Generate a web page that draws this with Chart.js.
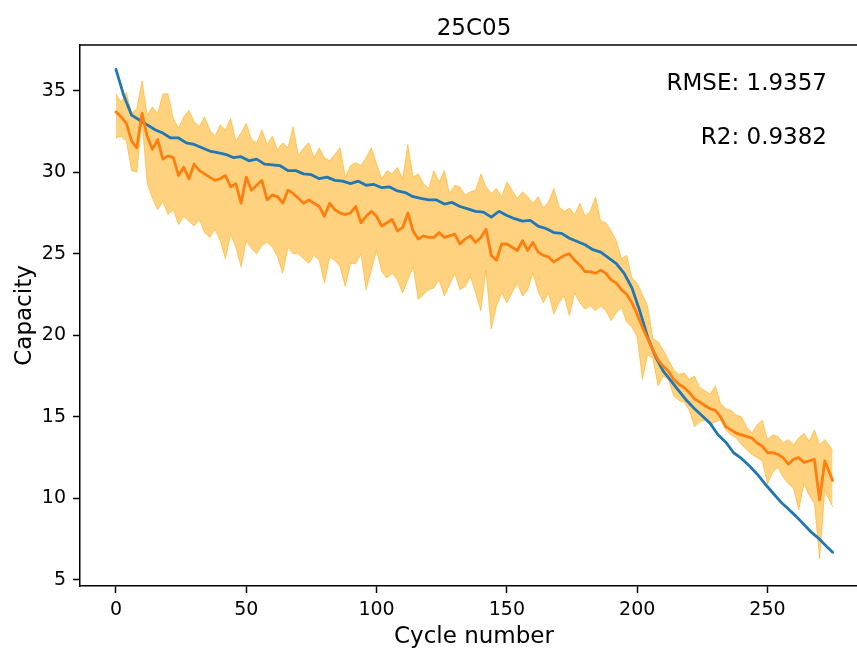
<!DOCTYPE html>
<html><head><meta charset="utf-8">
<script src="https://cdn.jsdelivr.net/npm/chart.js@4"></script>
<style>
html,body{margin:0;padding:0;overflow:hidden;background:#fff;width:857px;height:649px}
#wrap{width:857px;height:649px}
</style></head>
<body><div id="wrap"><canvas id="c" width="857" height="649"></canvas></div>
<script>
const chartTitle = '25C05';
const xLabel = 'Cycle number';
const yLabel = 'Capacity';
const notes = ['RMSE: 1.9357', 'R2: 0.9382'];
const xTicks = [0, 50, 100, 150, 200, 250];
const yTicks = [5, 10, 15, 20, 25, 30, 35];

// measured capacity (blue), sampled every 3 cycles
const cyclesTrue = [0,3,6,9,12,15,18,21,24,27,30,33,36,39,42,45,48,51,54,57,60,63,66,69,72,75,78,81,84,87,90,93,96,99,102,105,108,111,114,117,120,123,126,129,132,135,138,141,144,147,150,153,156,159,162,165,168,171,174,177,180,183,186,189,192,195,198,201,204,207,210,213,216,219,222,225,228,231,234,237,240,243,246,249,252,255,258,261,264,267,270,273,275];
const trueCapacity = [36.3,34.7,33.5,33.2,32.9,32.6,32.4,32.1,32.1,31.8,31.7,31.5,31.3,31.2,31.1,30.9,30.95,30.7,30.8,30.5,30.45,30.4,30.1,30.1,29.9,29.85,29.6,29.7,29.5,29.45,29.3,29.45,29.2,29.25,29.05,29.1,28.85,28.75,28.5,28.4,28.3,28.3,28.05,28.15,27.9,27.75,27.6,27.55,27.25,27.6,27.35,27.15,27.0,27.05,26.7,26.55,26.3,26.25,25.95,25.75,25.55,25.25,25.1,24.75,24.4,23.8,22.9,21.5,19.9,18.7,17.8,17.2,16.6,16.0,15.5,15.05,14.6,13.9,13.45,12.8,12.45,12.0,11.5,10.9,10.35,9.8,9.35,8.9,8.4,7.9,7.5,7.0,6.7];

// prediction (orange mean and band), sampled every 2 cycles
const cyclesPred = [0,2,4,6,8,10,12,14,16,18,20,22,24,26,28,30,32,34,36,38,40,42,44,46,48,50,52,54,56,58,60,62,64,66,68,70,72,74,76,78,80,82,84,86,88,90,92,94,96,98,100,102,104,106,108,110,112,114,116,118,120,122,124,126,128,130,132,134,136,138,140,142,144,146,148,150,152,154,156,158,160,162,164,166,168,170,172,174,176,178,180,182,184,186,188,190,192,194,196,198,200,202,204,206,208,210,212,214,216,218,220,222,224,226,228,230,232,234,236,238,240,242,244,246,248,250,252,254,256,258,260,262,264,266,268,270,272,274,275];

const predMean = [
33.7,33.4,33.0,31.9,31.5,33.6,32.2,31.4,32.0,30.8,
31.0,30.9,29.8,30.3,29.6,30.5,30.1,29.9,29.7,29.5,
29.6,29.8,29.1,29.3,28.1,29.7,28.9,29.2,29.5,28.3,
28.6,28.5,28.1,28.9,28.7,28.4,28.1,28.3,28.1,27.9,
27.3,28.1,27.7,27.5,27.4,27.5,27.9,26.9,27.3,27.6,
27.3,26.7,26.9,27.1,26.4,26.6,27.5,26.4,25.9,26.1,
26.0,26.0,26.3,26.0,26.1,26.2,25.6,25.9,26.1,25.7,
26.0,26.5,24.9,24.6,25.6,25.6,25.4,25.2,25.8,25.2,
25.7,25.1,24.9,24.8,24.5,24.7,24.9,25.0,24.6,24.3,
23.9,23.9,23.8,24.0,23.8,23.4,23.2,22.8,22.5,22.0,
21.3,20.5,19.8,19.1,18.5,18.1,17.8,17.3,17.0,16.8,
16.5,16.1,15.9,15.7,15.5,15.4,15.0,14.4,14.2,14.0,
13.9,13.8,13.7,13.4,13.2,12.8,12.8,12.7,12.5,12.1,
12.4,12.5,12.2,12.3,12.4,9.9,12.3,11.5,11.1];

const predUpper = [
34.8,34.3,34.9,33.6,33.9,35.6,33.5,34.0,33.6,34.8,
34.8,33.3,32.7,33.4,33.8,33.1,32.8,33.4,32.6,32.2,
32.9,32.6,33.3,31.9,32.4,33.0,32.0,31.8,32.6,31.7,
32.2,31.4,31.8,31.5,32.8,31.0,31.5,31.8,30.9,31.5,
30.9,30.7,31.1,31.5,29.7,30.4,30.6,30.4,30.9,31.5,
30.5,29.6,30.1,29.9,30.3,29.6,31.7,29.7,29.9,29.3,
29.0,30.1,29.4,30.1,28.7,29.2,29.1,28.6,28.8,28.9,
29.9,29.1,28.7,29.0,28.5,29.4,28.9,28.4,28.8,28.5,
28.1,28.5,27.8,28.2,29.0,27.9,27.6,27.8,27.4,28.1,
27.3,27.6,28.5,27.0,26.9,26.4,25.8,24.7,24.9,23.5,
23.2,22.5,21.8,19.8,19.6,19.1,18.5,17.9,17.6,17.7,
17.3,17.5,16.8,16.6,16.4,16.9,15.8,15.5,15.4,15.1,
15.0,14.4,14.0,14.5,14.8,13.6,13.9,13.8,13.4,13.6,
13.3,13.7,14.0,13.5,14.2,13.3,13.6,13.2,12.9];

const predLower = [
32.1,32.2,31.9,30.1,30.0,33.2,29.3,28.4,27.7,28.2,
27.4,27.7,26.8,27.3,27.0,26.7,27.1,26.3,26.0,26.5,
25.8,24.7,26.2,25.4,24.2,25.8,25.3,25.0,25.5,25.7,
25.4,24.8,23.8,25.4,25.0,25.0,24.7,24.4,24.9,24.6,
23.2,24.8,24.6,24.2,23.0,24.4,24.4,25.0,22.8,24.0,
25.2,23.9,23.5,23.8,23.4,22.6,23.4,24.2,22.2,22.5,
22.8,22.9,23.4,22.4,23.1,23.8,22.8,23.0,23.6,22.6,
21.5,24.0,20.4,21.8,22.6,22.0,22.6,23.2,22.4,22.8,
23.8,22.7,22.0,22.6,21.3,22.0,22.4,21.2,22.6,22.0,
21.6,21.8,21.5,21.8,21.5,20.9,21.4,21.7,20.8,20.5,
19.9,17.3,18.8,18.6,16.9,17.5,17.3,16.3,16.0,15.9,
15.4,14.4,14.7,14.8,14.5,14.7,14.8,14.2,13.9,13.7,
13.3,13.0,12.7,12.5,12.3,10.9,11.6,11.9,11.3,10.9,
10.6,9.3,10.9,10.2,9.7,6.3,10.5,9.8,9.5];

const pts = (xs, ys) => ys.map((v, i) => ({x: xs[i], y: v}));
const FONT = 'DejaVu Sans';
const bandColor = 'rgba(255,165,0,0.5)';

const deco = {
  id: 'deco',
  afterDraw(chart) {
    const {ctx, chartArea: a} = chart;
    ctx.save();
    ctx.strokeStyle = '#000';
    ctx.lineWidth = 1.5;
    ctx.beginPath();
    ctx.moveTo(a.left, a.top);
    ctx.lineTo(a.right, a.top);
    ctx.stroke();
    ctx.fillStyle = '#000';
    ctx.font = '23px "' + FONT + '"';
    const cx = 474;
    ctx.textAlign = 'center';
    ctx.textBaseline = 'alphabetic';
    ctx.fillText(chartTitle, cx, 35);
    ctx.fillText(xLabel, cx, 643);
    ctx.textAlign = 'right';
    ctx.fillText(notes[0], 827, 90);
    ctx.fillText(notes[1], 827, 144);
    ctx.translate(31, (a.top + a.bottom) / 2);
    ctx.rotate(-Math.PI / 2);
    ctx.textAlign = 'center';
    ctx.fillText(yLabel, 0, 0);
    ctx.restore();
  }
};

const axisCommon = {
  grid: {display: true, drawOnChartArea: false, drawTicks: true, tickLength: 7, tickWidth: 1.5, tickColor: '#000'},
  border: {display: true, color: '#000', width: 1.5},
  ticks: {font: {family: FONT, size: 19}, color: '#000', padding: 6, maxRotation: 0, autoSkip: false, callback: v => String(v)}
};

new Chart(document.getElementById('c'), {
  type: 'line',
  data: {
    datasets: [
      {data: pts(cyclesPred, predUpper), borderColor: bandColor, borderWidth: 1, backgroundColor: bandColor, fill: '+1', pointRadius: 0, order: 2},
      {data: pts(cyclesPred, predLower), borderColor: bandColor, borderWidth: 1, fill: false, pointRadius: 0, order: 2},
      {data: pts(cyclesTrue, trueCapacity), borderColor: '#1f77b4', borderWidth: 2.8, fill: false, pointRadius: 0, order: 1},
      {data: pts(cyclesPred, predMean), borderColor: '#ff7f0e', borderWidth: 2.8, fill: false, pointRadius: 0, order: 0}
    ]
  },
  options: {
    responsive: false,
    devicePixelRatio: 1,
    animation: false,
    layout: {padding: {left: 0, top: 45, right: 0, bottom: 0}},
    plugins: {legend: {display: false}, tooltip: {enabled: false}, title: {display: false}},
    elements: {line: {tension: 0, borderJoinStyle: 'round', borderCapStyle: 'round'}, point: {radius: 0}},
    scales: {
      x: Object.assign({}, axisCommon, {
        type: 'linear', min: -13.8, max: 284.35,
        afterBuildTicks: s => { s.ticks = xTicks.map(v => ({value: v})); },
        afterFit: s => { s.height = 63; },
        ticks: Object.assign({}, axisCommon.ticks, {padding: 6})
      }),
      y: Object.assign({}, axisCommon, {
        type: 'linear', min: 4.63, max: 37.8,
        afterBuildTicks: s => { s.ticks = yTicks.map(v => ({value: v})); },
        afterFit: s => { s.width = 80; },
        ticks: Object.assign({}, axisCommon.ticks, {padding: 7})
      })
    }
  },
  plugins: [deco]
});
</script>
</body></html>
